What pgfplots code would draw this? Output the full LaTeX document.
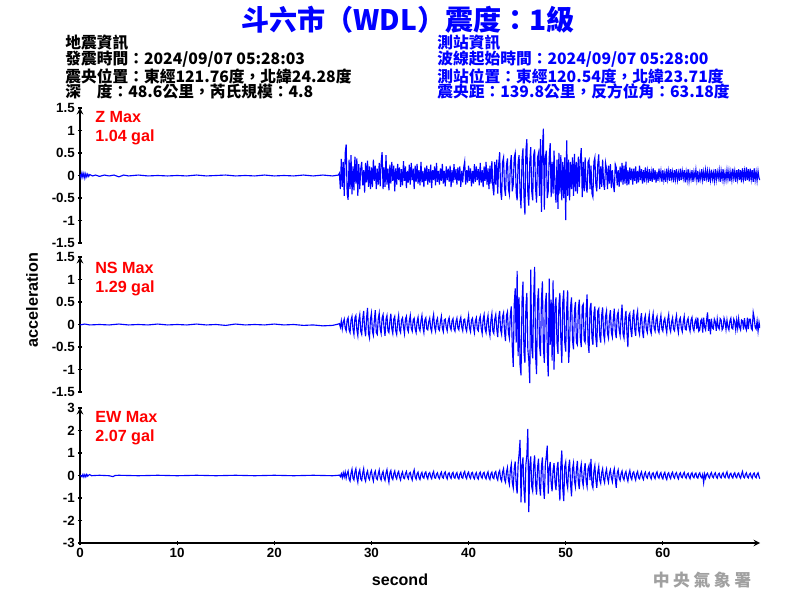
\documentclass[border=0pt]{standalone}
\usepackage{pgfplots}
\pgfplotsset{compat=1.18}
\usepackage{fontspec}
\setmainfont{Liberation Sans}
\newfontfamily\cjk{Noto Sans CJK TC}
\definecolor{wblue}{RGB}{0,0,255}
\definecolor{wred}{RGB}{255,0,0}
\definecolor{wgray}{RGB}{160,160,160}
\pgfplotsset{
  seis/.style={
    scale only axis, width=17cm, height=3.375cm,
    xmin=0, xmax=70,
    axis line style={line width=1pt,-,black},
    tick style={line width=0.9pt, black},
    major tick length=3pt,
    tick align=outside,
    ticklabel style={font=\fontsize{9.5}{10}\selectfont\bfseries, inner sep=2pt},
  },
  seistop/.style={seis, axis x line=none, axis y line=left,
    ymin=-1.5, ymax=1.5, ytick={-1.5,-1,-0.5,0,0.5,1,1.5},
    yticklabels={-1.5,-1,-0.5,0,0.5,1,1.5}},
}
\begin{document}
\begin{tikzpicture}
\useasboundingbox (0,0) rectangle (20cm,15cm);
% ---------- Z ----------
\begin{axis}[seistop, at={(2cm,8.925cm)}, anchor=south west]
\addplot[wblue, line width=0.8pt] coordinates {
(0,0.03)(0.1,-0.05)(0.2,0.06)(0.3,-0.04)(0.4,0.05)(0.5,-0.06)(0.6,0.04)(0.7,-0.03)(0.8,0.03)(0.9,-0.02)(1.0,0.02)(1.3,-0.01)(1.6,0.01)(2.0,-0.02)(2.5,0.01)(3.0,-0.01)(3.5,0.01)(4.0,-0.03)(4.5,0.01)(5.0,-0.01)(6,0.01)(7,-0.01)(8,0.0)(9,-0.01)(10,0.0)(11,-0.01)(12,0.01)(13,-0.01)(14,0)(15,0.01)(16,-0.01)(17,0)(18,-0.01)(19,0.01)(20,-0.01)(21,0)(22,-0.01)(23,0.01)(24,-0.01)(25,0.01)(26,-0.01)(26.6,0.01)(26.7,0.05)(26.8,-0.30)(26.9,0.37)
(27.0,-0.25)(27.1,0.30)(27.2,-0.45)(27.3,0.50)(27.4,0.69)(27.5,-0.40)(27.6,-0.54)(27.7,0.35)(27.8,-0.30)(27.9,0.45)
(28.0,-0.42)(28.1,0.20)(28.2,-0.33)(28.3,0.42)(28.4,-0.18)(28.5,0.38)(28.6,-0.45)(28.7,0.25)(28.8,-0.30)(28.9,0.15)
(29.0,0.30)(29.1,-0.22)(29.2,0.12)(29.3,-0.38)(29.4,0.28)(29.5,-0.15)(29.6,0.33)(29.7,-0.25)(29.8,0.20)(29.9,-0.30)
(30.0,0.18)(30.1,-0.26)(30.2,0.35)(30.3,-0.12)(30.4,0.22)(30.5,-0.30)(30.6,0.15)(30.7,-0.20)(30.8,0.28)(30.9,-0.24)
(31.0,0.30)(31.1,0.52)(31.2,-0.30)(31.3,0.18)(31.4,-0.25)(31.5,0.45)(31.6,-0.20)(31.7,0.15)(31.8,-0.33)(31.9,0.24)
(32.0,-0.18)(32.1,0.30)(32.2,-0.12)(32.3,0.22)(32.4,-0.35)(32.5,0.16)(32.6,-0.20)(32.7,0.26)(32.8,-0.10)(32.9,0.18)
(33.0,-0.25)(33.1,0.14)(33.2,-0.22)(33.3,0.32)(33.4,-0.12)(33.5,0.20)(33.6,-0.28)(33.7,0.10)(33.8,-0.16)(33.9,0.24)
(34.0,-0.20)(34.1,0.28)(34.2,-0.10)(34.3,0.15)(34.4,-0.30)(34.5,0.22)(34.6,-0.14)(34.7,0.26)(34.8,-0.18)(34.9,0.12)
(35.0,-0.22)(35.1,0.30)(35.2,-0.15)(35.3,0.10)(35.4,-0.26)(35.5,0.18)(35.6,-0.12)(35.7,0.22)(35.8,-0.20)(35.9,0.14)
(36.0,-0.16)(36.1,0.24)(36.2,-0.28)(36.3,0.12)(36.4,-0.10)(36.5,0.20)(36.6,-0.22)(36.7,0.28)(36.8,-0.14)(36.9,0.10)
(37.0,-0.20)(37.1,0.16)(37.2,-0.12)(37.3,0.26)(37.4,-0.18)(37.5,0.10)(37.6,-0.24)(37.7,0.20)(37.8,-0.10)(37.9,0.15)
(38.0,-0.14)(38.1,0.22)(38.2,-0.26)(38.3,0.12)(38.4,-0.16)(38.5,0.25)(38.6,-0.10)(38.7,0.14)(38.8,-0.20)(38.9,0.18)
(39.0,-0.12)(39.1,0.20)(39.2,-0.25)(39.3,0.10)(39.4,-0.15)(39.5,0.18)(39.6,0.31)(39.7,-0.20)(39.8,0.12)(39.9,-0.16)
(40.0,0.22)(40.1,-0.12)(40.2,0.16)(40.3,-0.24)(40.4,0.10)(40.5,-0.18)(40.6,0.25)(40.7,-0.14)(40.8,0.20)(40.9,-0.10)
(41.0,0.14)(41.1,-0.22)(41.2,0.28)(41.3,-0.16)(41.4,0.12)(41.5,-0.26)(41.6,0.20)(41.7,-0.12)(41.8,0.30)(41.9,-0.20)
(42.0,0.16)(42.1,-0.30)(42.2,0.22)(42.3,-0.18)(42.4,0.32)(42.5,-0.25)(42.6,-0.44)(42.7,0.30)(42.8,-0.20)(42.9,0.35)
(43.0,-0.40)(43.1,0.25)(43.2,0.52)(43.3,-0.35)(43.4,-0.54)(43.5,0.30)(43.6,0.40)(43.7,-0.28)(43.8,-0.45)(43.9,0.22)
(44.0,0.38)(44.1,-0.30)(44.2,-0.42)(44.3,0.25)(44.4,0.45)(44.5,-0.35)(44.6,-0.20)(44.7,0.40)(44.8,0.50)(44.9,-0.38)
(45.0,-0.55)(45.1,0.30)(45.2,0.45)(45.3,-0.40)(45.4,-0.73)(45.5,0.35)(45.6,0.60)(45.7,-0.45)(45.8,-0.87)(45.9,0.55)
(46.0,0.81)(46.1,-0.40)(46.2,-0.67)(46.3,0.30)(46.4,0.63)(46.5,-0.35)(46.6,-0.55)(46.7,0.45)(46.8,0.58)(46.9,-0.30)
(47.0,-0.60)(47.1,0.40)(47.2,0.50)(47.3,-0.45)(47.4,0.81)(47.5,-0.81)(47.6,0.60)(47.7,1.04)(47.8,-0.76)(47.9,0.40)
(48.0,0.55)(48.1,-0.50)(48.2,-0.35)(48.3,0.40)(48.4,0.72)(48.5,-0.48)(48.6,0.30)(48.7,-0.40)(48.8,0.55)(48.9,-0.30)
(49.0,-0.60)(49.1,0.35)(49.2,-0.74)(49.3,0.50)(49.4,-0.40)(49.5,0.45)(49.6,-0.55)(49.7,0.30)(49.8,-0.50)(49.9,0.40)
(50.0,-0.99)(50.1,0.78)(50.2,-0.45)(50.3,0.35)(50.4,-0.55)(50.5,0.30)(50.6,-0.30)(50.7,0.40)(50.8,-0.45)(50.9,0.48)
(51.0,-0.35)(51.1,0.30)(51.2,-0.40)(51.3,0.42)(51.4,-0.25)(51.5,0.35)(51.6,0.61)(51.7,-0.48)(51.8,0.30)(51.9,-0.35)
(52.0,0.40)(52.1,-0.25)(52.2,-0.38)(52.3,0.30)(52.4,0.35)(52.5,-0.30)(52.6,0.22)(52.7,-0.40)(52.8,-0.48)(52.9,0.30)
(53.0,0.40)(53.1,-0.20)(53.2,-0.35)(53.3,0.25)(53.4,0.47)(53.5,-0.30)(53.6,0.20)(53.7,-0.25)(53.8,0.35)(53.9,-0.18)
(54.0,-0.32)(54.1,0.28)(54.2,0.15)(54.3,-0.30)(54.4,0.22)(54.5,-0.18)(54.6,0.25)(54.7,-0.28)(54.8,0.12)(54.9,-0.20)
(55.0,-0.37)(55.1,0.25)(55.2,0.18)(55.3,-0.22)(55.4,0.12)(55.5,-0.25)(55.6,0.20)(55.7,-0.15)(55.8,0.28)(55.9,-0.20)
(56.0,0.22)(56.1,-0.18)(56.2,0.31)(56.3,-0.22)(56.4,0.12)(56.5,-0.20)(56.6,0.18)(56.7,-0.10)(56.8,0.15)(56.9,-0.20)
(57.0,0.15)(57.1,-0.12)(57.2,0.20)(57.3,-0.18)(57.4,0.10)(57.5,-0.15)(57.6,0.22)(57.7,-0.10)(57.8,0.14)(57.9,-0.18)
(58.0,0.12)(58.1,-0.15)(58.2,0.18)(58.3,-0.08)(58.4,0.10)(58.5,-0.16)(58.6,0.14)(58.7,-0.12)(58.8,0.08)(58.9,-0.14)
(59.0,0.16)(59.1,-0.10)(59.2,0.12)(59.3,-0.16)(59.4,0.08)(59.5,-0.12)(59.6,0.15)(59.7,-0.06)(59.8,0.10)(59.9,-0.14)
(60.0,0.12)(60.1,-0.10)(60.2,0.06)(60.3,-0.14)(60.4,0.15)(60.5,-0.08)(60.6,0.10)(60.7,-0.12)(60.8,0.14)(60.9,-0.06)
(61.0,0.08)(61.1,-0.15)(61.2,0.12)(61.3,-0.08)(61.4,0.14)(61.5,-0.10)(61.6,0.06)(61.7,-0.12)(61.8,0.15)(61.9,-0.10)
(62.0,0.10)(62.1,-0.06)(62.2,0.12)(62.3,-0.15)(62.4,0.08)(62.5,-0.10)(62.6,0.14)(62.7,-0.12)(62.8,0.06)(62.9,-0.08)
(63.0,0.12)(63.1,-0.14)(63.2,0.08)(63.3,-0.06)(63.4,0.13)(63.5,-0.10)(63.6,0.10)(63.7,-0.15)(63.8,0.06)(63.9,-0.08)
(64.0,0.14)(64.1,-0.10)(64.2,0.08)(64.3,-0.12)(64.4,0.12)(64.5,-0.06)(64.6,0.10)(64.7,-0.14)(64.8,0.08)(64.9,-0.10)
(65.0,0.13)(65.1,-0.08)(65.2,0.06)(65.3,-0.12)(65.4,0.14)(65.5,-0.10)(65.6,0.08)(65.7,-0.06)(65.8,0.12)(65.9,-0.14)
(66.0,0.10)(66.1,-0.08)(66.2,0.14)(66.3,-0.12)(66.4,0.06)(66.5,-0.10)(66.6,0.12)(66.7,-0.08)(66.8,0.10)(66.9,-0.13)
(67.0,0.08)(67.1,-0.10)(67.2,0.15)(67.3,-0.06)(67.4,0.10)(67.5,-0.14)(67.6,0.12)(67.7,-0.08)(67.8,0.14)(67.9,-0.10)
(68.0,0.12)(68.1,-0.15)(68.2,0.16)(68.3,-0.08)(68.4,0.10)(68.5,-0.12)(68.6,0.18)(68.7,-0.10)(68.8,0.14)(68.9,-0.13)
(69.0,0.15)(69.1,-0.08)(69.2,0.12)(69.3,-0.14)(69.4,0.16)(69.5,-0.10)(69.6,0.08)(69.7,-0.12)(69.8,0.10)(69.9,-0.06)(70.0,-0.10)
};
\end{axis}
% ---------- NS ----------
\begin{axis}[seistop, at={(2cm,5.2cm)}, anchor=south west]
\addplot[wblue, line width=0.8pt] coordinates {
(0,-0.01)(0.5,0.01)(1,-0.01)(2,0.0)(3,-0.01)(4,0.01)(5,-0.01)(6,0)(7,-0.01)(8,0.01)(9,-0.01)(10,0)(11,-0.01)(12,0.01)(13,-0.01)(14,0)(15,-0.02)(16,0.01)(17,-0.01)(18,0)(19,-0.01)(20,0.01)(21,-0.01)(22,0)(23,-0.02)(24,-0.01)(25,-0.03)(26,-0.02)(26.6,0.01)(26.7,0.02)(26.8,-0.06)(26.9,0.08)
(27.0,-0.10)(27.1,0.05)(27.2,0.12)(27.3,-0.08)(27.4,-0.14)(27.5,0.10)(27.6,0.15)(27.7,-0.12)(27.8,-0.18)(27.9,0.10)
(28.0,0.18)(28.1,-0.10)(28.2,-0.22)(28.3,0.15)(28.4,0.20)(28.5,-0.12)(28.6,-0.25)(28.7,0.10)(28.8,0.22)(28.9,-0.15)
(29.0,-0.22)(29.1,0.12)(29.2,0.30)(29.3,-0.10)(29.4,-0.26)(29.5,0.15)(29.6,0.37)(29.7,-0.20)(29.8,-0.30)(29.9,0.12)
(30.0,0.25)(30.1,-0.15)(30.2,-0.24)(30.3,0.10)(30.4,0.32)(30.5,-0.18)(30.6,-0.22)(30.7,0.12)(30.8,0.25)(30.9,-0.10)
(31.0,-0.20)(31.1,0.15)(31.2,0.22)(31.3,-0.08)(31.4,-0.25)(31.5,0.12)(31.6,0.20)(31.7,-0.14)(31.8,-0.18)(31.9,0.08)
(32.0,0.24)(32.1,-0.10)(32.2,-0.20)(32.3,0.12)(32.4,0.18)(32.5,-0.14)(32.6,-0.22)(32.7,0.06)(32.8,0.20)(32.9,-0.12)
(33.0,-0.18)(33.1,0.10)(33.2,0.15)(33.3,-0.06)(33.4,-0.20)(33.5,0.12)(33.6,0.18)(33.7,-0.10)(33.8,-0.16)(33.9,0.08)
(34.0,0.20)(34.1,-0.08)(34.2,-0.15)(34.3,0.10)(34.4,0.14)(34.5,-0.10)(34.6,-0.18)(34.7,0.06)(34.8,0.16)(34.9,-0.08)
(35.0,-0.14)(35.1,0.08)(35.2,0.20)(35.3,-0.06)(35.4,-0.18)(35.5,0.10)(35.6,0.15)(35.7,-0.10)(35.8,-0.12)(35.9,0.06)
(36.0,0.14)(36.1,-0.08)(36.2,-0.16)(36.3,0.10)(36.4,0.22)(36.5,-0.06)(36.6,-0.15)(36.7,0.08)(36.8,0.14)(36.9,-0.10)
(37.0,-0.13)(37.1,0.06)(37.2,0.18)(37.3,-0.08)(37.4,-0.16)(37.5,0.10)(37.6,0.12)(37.7,-0.06)(37.8,-0.14)(37.9,0.08)
(38.0,0.15)(38.1,-0.06)(38.2,-0.12)(38.3,0.08)(38.4,0.13)(38.5,-0.10)(38.6,-0.15)(38.7,0.06)(38.8,0.14)(38.9,-0.08)
(39.0,-0.12)(39.1,0.08)(39.2,0.16)(39.3,-0.06)(39.4,-0.14)(39.5,0.10)(39.6,0.12)(39.7,-0.08)(39.8,-0.15)(39.9,0.06)
(40.0,0.20)(40.1,-0.08)(40.2,-0.16)(40.3,0.10)(40.4,0.14)(40.5,-0.06)(40.6,-0.18)(40.7,0.08)(40.8,0.15)(40.9,-0.10)
(41.0,-0.14)(41.1,0.10)(41.2,0.18)(41.3,-0.08)(41.4,-0.20)(41.5,0.12)(41.6,0.22)(41.7,-0.10)(41.8,-0.18)(41.9,0.08)
(42.0,0.20)(42.1,-0.12)(42.2,-0.25)(42.3,0.10)(42.4,0.24)(42.5,-0.15)(42.6,-0.20)(42.7,0.12)(42.8,0.22)(42.9,-0.10)
(43.0,-0.28)(43.1,0.15)(43.2,0.30)(43.3,-0.12)(43.4,-0.22)(43.5,0.18)(43.6,0.26)(43.7,-0.15)(43.8,-0.37)(43.9,0.20)
(44.0,0.28)(44.1,-0.18)(44.2,-0.30)(44.3,0.22)(44.4,0.40)(44.5,-0.50)(44.6,-0.94)(44.7,0.45)(44.8,0.80)(44.9,-0.40)
(45.0,1.19)(45.1,-0.70)(45.2,0.60)(45.3,-0.90)(45.4,-1.13)(45.5,0.50)(45.6,0.95)(45.7,-0.60)(45.8,-0.85)(45.9,0.40)
(46.0,0.70)(46.1,-0.55)(46.2,-0.80)(46.3,-1.30)(46.4,1.22)(46.5,-0.50)(46.6,-0.75)(46.7,0.60)(46.8,1.28)(46.9,-0.70)
(47.0,-1.10)(47.1,0.50)(47.2,0.80)(47.3,-0.45)(47.4,-0.70)(47.5,0.55)(47.6,0.96)(47.7,-0.50)(47.8,-0.85)(47.9,0.45)
(48.0,0.70)(48.1,-0.60)(48.2,-1.15)(48.3,1.02)(48.4,-0.45)(48.5,0.55)(48.6,-0.80)(48.7,0.98)(48.8,-1.00)(48.9,0.40)
(49.0,0.60)(49.1,-0.40)(49.2,-0.65)(49.3,0.45)(49.4,0.70)(49.5,-0.35)(49.6,-0.85)(49.7,0.50)(49.8,0.76)(49.9,-0.40)
(50.0,-0.60)(50.1,0.35)(50.2,0.76)(50.3,-0.85)(50.4,-0.45)(50.5,0.40)(50.6,0.60)(50.7,-0.35)(50.8,-0.55)(50.9,0.30)
(51.0,0.50)(51.1,-0.40)(51.2,-0.45)(51.3,0.35)(51.4,0.55)(51.5,-0.30)(51.6,-0.50)(51.7,0.40)(51.8,0.45)(51.9,-0.35)
(52.0,-0.40)(52.1,0.30)(52.2,0.67)(52.3,-0.40)(52.4,-0.63)(52.5,0.35)(52.6,0.48)(52.7,-0.30)(52.8,-0.45)(52.9,0.25)
(53.0,0.40)(53.1,-0.30)(53.2,-0.50)(53.3,0.30)(53.4,0.35)(53.5,-0.25)(53.6,-0.40)(53.7,0.20)(53.8,0.38)(53.9,-0.22)
(54.0,-0.35)(54.1,0.18)(54.2,0.30)(54.3,-0.20)(54.4,-0.30)(54.5,0.15)(54.6,0.32)(54.7,-0.18)(54.8,-0.28)(54.9,0.12)
(55.0,0.35)(55.1,-0.15)(55.2,-0.30)(55.3,0.20)(55.4,0.28)(55.5,-0.12)(55.6,-0.25)(55.7,0.15)(55.8,0.44)(55.9,-0.20)
(56.0,-0.30)(56.1,0.12)(56.2,0.30)(56.3,-0.18)(56.4,-0.50)(56.5,0.20)(56.6,0.25)(56.7,-0.12)(56.8,-0.28)(56.9,0.15)
(57.0,0.33)(57.1,-0.10)(57.2,-0.25)(57.3,0.18)(57.4,0.30)(57.5,-0.12)(57.6,-0.22)(57.7,0.10)(57.8,0.25)(57.9,-0.15)
(58.0,-0.30)(58.1,0.12)(58.2,0.20)(58.3,-0.10)(58.4,-0.18)(58.5,0.08)(58.6,0.22)(58.7,-0.12)(58.8,-0.20)(58.9,0.10)
(59.0,0.24)(59.1,-0.08)(59.2,-0.15)(59.3,0.10)(59.4,0.18)(59.5,-0.12)(59.6,-0.18)(59.7,0.06)(59.8,0.20)(59.9,-0.10)
(60.0,-0.15)(60.1,0.08)(60.2,0.14)(60.3,-0.06)(60.4,-0.18)(60.5,0.10)(60.6,0.22)(60.7,-0.08)(60.8,-0.16)(60.9,0.06)
(61.0,0.15)(61.1,-0.10)(61.2,-0.14)(61.3,0.08)(61.4,0.20)(61.5,-0.06)(61.6,-0.18)(61.7,0.10)(61.8,0.15)(61.9,-0.08)
(62.0,-0.16)(62.1,0.06)(62.2,0.18)(62.3,-0.10)(62.4,-0.12)(62.5,0.08)(62.6,0.14)(62.7,-0.06)(62.8,-0.15)(62.9,0.10)
(63.0,0.16)(63.1,-0.08)(63.2,-0.14)(63.3,0.06)(63.4,0.12)(63.5,-0.10)(63.6,0.15)(63.7,-0.15)(63.8,-0.12)(63.9,0.08)
(64.0,0.12)(64.1,-0.18)(64.2,0.15)(64.3,-0.06)(64.4,-0.12)(64.5,0.10)(64.6,0.27)(64.7,-0.14)(64.8,0.12)(64.9,-0.22)
(65.0,0.13)(65.1,-0.08)(65.2,-0.10)(65.3,0.12)(65.4,0.06)(65.5,-0.14)(65.6,0.12)(65.7,-0.06)(65.8,-0.10)(65.9,0.13)
(66.0,0.10)(66.1,-0.12)(66.2,-0.08)(66.3,0.14)(66.4,0.06)(66.5,-0.11)(66.6,0.10)(66.7,-0.06)(66.8,-0.12)(66.9,0.08)
(67.0,0.14)(67.1,-0.08)(67.2,-0.10)(67.3,0.12)(67.4,0.06)(67.5,-0.12)(67.6,0.10)(67.7,-0.08)(67.8,0.13)(67.9,-0.06)
(68.0,-0.12)(68.1,0.10)(68.2,0.08)(68.3,-0.11)(68.4,0.14)(68.5,-0.06)(68.6,-0.12)(68.7,0.15)(68.8,-0.10)(68.9,0.12)
(69.0,0.12)(69.1,-0.08)(69.2,-0.12)(69.3,0.27)(69.4,0.15)(69.5,-0.06)(69.6,-0.10)(69.7,0.08)(69.8,-0.15)(69.9,0.05)(70.0,-0.08)
};
\end{axis}
% ---------- EW ----------
\begin{axis}[seis, axis lines=left, at={(2cm,1.425cm)}, anchor=south west,
  ymin=-3, ymax=3, ytick={-3,-2,-1,0,1,2,3}, yticklabels={-3,-2,-1,0,1,2,3},
  xtick={0,10,20,30,40,50,60}, xticklabels={0,10,20,30,40,50,60}]
\addplot[wblue, line width=0.8pt] coordinates {
(0,0.02)(0.2,-0.06)(0.3,0.05)(0.4,-0.07)(0.5,0.04)(0.6,-0.06)(0.7,0.05)(0.8,-0.03)(0.9,0.02)(1.0,0.04)(1.2,-0.01)(1.5,0.0)(2,0.01)(2.5,0)(3.0,-0.01)(3.4,-0.05)(3.6,0.0)(4,0.01)(5,0)(6,-0.01)(7,0)(8,0.01)(9,0)(10,-0.01)(11,0)(12,0.01)(13,0)(14,-0.01)(15,0)(16,0.01)(17,0)(18,-0.01)(19,0)(20,0.01)(21,0)(22,-0.01)(23,0)(24,0.01)(25,0)(26,-0.01)(26.6,0.01)(26.7,0.02)(26.8,-0.05)(26.9,0.08)
(27.0,-0.10)(27.1,0.12)(27.2,-0.06)(27.3,0.15)(27.4,-0.12)(27.5,0.08)(27.6,0.20)(27.7,-0.15)(27.8,-0.25)(27.9,0.10)
(28.0,0.28)(28.1,-0.12)(28.2,-0.20)(28.3,0.15)(28.4,0.30)(28.5,-0.10)(28.6,-0.30)(28.7,0.12)(28.8,0.25)(28.9,-0.15)
(29.0,-0.22)(29.1,0.10)(29.2,0.30)(29.3,-0.12)(29.4,-0.25)(29.5,0.08)(29.6,0.20)(29.7,-0.10)(29.8,-0.18)(29.9,0.12)
(30.0,0.22)(30.1,-0.08)(30.2,-0.25)(30.3,0.10)(30.4,0.20)(30.5,-0.12)(30.6,-0.18)(30.7,0.06)(30.8,0.24)(30.9,-0.10)
(31.0,-0.20)(31.1,0.08)(31.2,0.18)(31.3,-0.12)(31.4,-0.22)(31.5,0.10)(31.6,0.26)(31.7,-0.08)(31.8,-0.30)(31.9,0.12)
(32.0,0.22)(32.1,-0.10)(32.2,-0.18)(32.3,0.08)(32.4,0.20)(32.5,-0.06)(32.6,-0.15)(32.7,0.10)(32.8,0.18)(32.9,-0.08)
(33.0,-0.20)(33.1,0.06)(33.2,0.16)(33.3,-0.10)(33.4,-0.14)(33.5,0.08)(33.6,0.18)(33.7,-0.06)(33.8,-0.15)(33.9,0.10)
(34.0,0.14)(34.1,-0.08)(34.2,-0.20)(34.3,0.10)(34.4,0.25)(34.5,-0.06)(34.6,-0.16)(34.7,0.08)(34.8,0.15)(34.9,-0.10)
(35.0,-0.18)(35.1,0.06)(35.2,0.14)(35.3,-0.08)(35.4,-0.12)(35.5,0.10)(35.6,0.16)(35.7,-0.06)(35.8,-0.15)(35.9,0.08)
(36.0,0.13)(36.1,-0.06)(36.2,-0.14)(36.3,0.08)(36.4,0.18)(36.5,-0.10)(36.6,-0.12)(36.7,0.06)(36.8,0.12)(36.9,-0.08)
(37.0,-0.14)(37.1,0.06)(37.2,0.15)(37.3,-0.08)(37.4,-0.12)(37.5,0.10)(37.6,0.16)(37.7,-0.06)(37.8,-0.15)(37.9,0.08)
(38.0,0.12)(38.1,-0.06)(38.2,-0.13)(38.3,0.08)(38.4,0.14)(38.5,-0.08)(38.6,-0.12)(38.7,0.06)(38.8,0.13)(38.9,-0.10)
(39.0,-0.15)(39.1,0.06)(39.2,0.14)(39.3,-0.08)(39.4,-0.12)(39.5,0.10)(39.6,0.18)(39.7,-0.06)(39.8,-0.14)(39.9,0.08)
(40.0,0.15)(40.1,-0.06)(40.2,-0.13)(40.3,0.10)(40.4,0.14)(40.5,-0.08)(40.6,-0.15)(40.7,0.06)(40.8,0.13)(40.9,-0.10)
(41.0,-0.16)(41.1,0.08)(41.2,0.15)(41.3,-0.06)(41.4,-0.12)(41.5,0.10)(41.6,0.14)(41.7,-0.08)(41.8,-0.15)(41.9,0.06)
(42.0,0.16)(42.1,-0.10)(42.2,-0.18)(42.3,0.08)(42.4,0.15)(42.5,-0.10)(42.6,-0.14)(42.7,0.12)(42.8,0.18)(42.9,-0.10)
(43.0,-0.20)(43.1,0.12)(43.2,0.22)(43.3,-0.15)(43.4,-0.25)(43.5,0.15)(43.6,0.30)(43.7,-0.18)(43.8,-0.30)(43.9,0.15)
(44.0,0.35)(44.1,-0.20)(44.2,-0.40)(44.3,0.25)(44.4,0.50)(44.5,-0.30)(44.6,-0.55)(44.7,0.30)(44.8,0.62)(44.9,-0.40)
(45.0,-0.80)(45.1,0.50)(45.2,0.95)(45.3,1.58)(45.4,-1.19)(45.5,0.45)(45.6,0.80)(45.7,-0.60)(45.8,-1.23)(45.9,0.50)
(46.0,0.90)(46.1,2.07)(46.2,-1.63)(46.3,0.40)(46.4,0.85)(46.5,-0.50)(46.6,-0.70)(46.7,0.45)(46.8,0.89)(46.9,-0.40)
(47.0,-0.85)(47.1,0.35)(47.2,0.75)(47.3,-0.45)(47.4,-0.89)(47.5,0.40)(47.6,0.80)(47.7,-0.50)(47.8,-1.04)(47.9,0.45)
(48.0,0.85)(48.1,1.33)(48.2,-0.80)(48.3,0.30)(48.4,0.60)(48.5,-0.35)(48.6,-0.70)(48.7,0.25)(48.8,0.55)(48.9,-0.30)
(49.0,-0.65)(49.1,0.30)(49.2,0.60)(49.3,-0.40)(49.4,-1.11)(49.5,0.50)(49.6,1.11)(49.7,-0.60)(49.8,-1.14)(49.9,0.40)
(50.0,0.60)(50.1,-0.30)(50.2,-0.55)(50.3,0.35)(50.4,0.70)(50.5,-0.40)(50.6,-0.93)(50.7,0.30)(50.8,0.55)(50.9,-0.25)
(51.0,-0.50)(51.1,0.25)(51.2,0.65)(51.3,-0.30)(51.4,-0.60)(51.5,0.25)(51.6,0.50)(51.7,-0.20)(51.8,-0.45)(51.9,0.20)
(52.0,0.55)(52.1,-0.25)(52.2,-0.50)(52.3,0.30)(52.4,0.45)(52.5,-0.20)(52.6,0.74)(52.7,-0.40)(52.8,-0.55)(52.9,0.20)
(53.0,0.44)(53.1,-0.20)(53.2,-0.55)(53.3,0.15)(53.4,0.40)(53.5,-0.20)(53.6,-0.35)(53.7,0.12)(53.8,0.30)(53.9,-0.15)
(54.0,-0.32)(54.1,0.10)(54.2,0.28)(54.3,-0.12)(54.4,-0.30)(54.5,0.10)(54.6,0.25)(54.7,-0.10)(54.8,-0.28)(54.9,0.12)
(55.0,0.30)(55.1,-0.15)(55.2,-0.55)(55.3,0.10)(55.4,0.25)(55.5,-0.12)(55.6,-0.22)(55.7,0.08)(55.8,0.20)(55.9,-0.10)
(56.0,-0.20)(56.1,0.08)(56.2,0.18)(56.3,-0.10)(56.4,-0.25)(56.5,0.06)(56.6,0.22)(56.7,-0.08)(56.8,-0.18)(56.9,0.10)
(57.0,0.16)(57.1,-0.06)(57.2,-0.20)(57.3,0.08)(57.4,0.18)(57.5,-0.10)(57.6,-0.15)(57.7,0.06)(57.8,0.16)(57.9,-0.08)
(58.0,-0.18)(58.1,0.06)(58.2,0.15)(58.3,-0.06)(58.4,-0.12)(58.5,0.08)(58.6,0.14)(58.7,-0.06)(58.8,-0.15)(58.9,0.08)
(59.0,0.12)(59.1,-0.06)(59.2,-0.14)(59.3,0.08)(59.4,0.16)(59.5,-0.06)(59.6,-0.12)(59.7,0.06)(59.8,0.13)(59.9,-0.08)
(60.0,-0.15)(60.1,0.06)(60.2,0.14)(60.3,-0.08)(60.4,-0.18)(60.5,0.06)(60.6,0.12)(60.7,-0.06)(60.8,-0.14)(60.9,0.08)
(61.0,0.15)(61.1,-0.06)(61.2,-0.12)(61.3,0.08)(61.4,0.13)(61.5,-0.06)(61.6,-0.15)(61.7,0.06)(61.8,0.12)(61.9,-0.06)
(62.0,-0.10)(62.1,0.06)(62.2,0.14)(62.3,-0.06)(62.4,-0.12)(62.5,0.05)(62.6,0.10)(62.7,-0.06)(62.8,-0.14)(62.9,0.06)
(63.0,0.12)(63.1,-0.05)(63.2,-0.10)(63.3,0.06)(63.4,0.11)(63.5,-0.08)(63.6,-0.12)(63.7,0.06)(63.8,0.12)(63.9,-0.05)
(64.0,-0.10)(64.1,0.05)(64.2,-0.32)(64.3,0.06)(64.4,-0.12)(64.5,0.05)(64.6,0.10)(64.7,-0.05)(64.8,-0.11)(64.9,0.06)
(65.0,0.13)(65.1,-0.05)(65.2,-0.10)(65.3,0.06)(65.4,0.12)(65.5,-0.06)(65.6,-0.12)(65.7,0.05)(65.8,0.10)(65.9,-0.06)
(66.0,-0.11)(66.1,0.05)(66.2,0.12)(66.3,-0.05)(66.4,-0.10)(66.5,0.06)(66.6,0.16)(66.7,-0.06)(66.8,-0.12)(66.9,0.05)
(67.0,0.10)(67.1,-0.05)(67.2,-0.11)(67.3,0.06)(67.4,0.12)(67.5,-0.05)(67.6,-0.10)(67.7,0.06)(67.8,0.11)(67.9,-0.05)
(68.0,-0.12)(68.1,0.06)(68.2,0.18)(68.3,-0.06)(68.4,-0.10)(68.5,0.05)(68.6,0.12)(68.7,-0.06)(68.8,-0.11)(68.9,0.05)
(69.0,0.10)(69.1,-0.05)(69.2,-0.12)(69.3,0.06)(69.4,0.11)(69.5,-0.05)(69.6,-0.10)(69.7,0.06)(69.8,0.12)(69.9,-0.05)(70.0,-0.15)
};
\end{axis}
% ---------- texts ----------
\node[wblue, font=\cjk\bfseries\fontsize{20}{23}\selectfont] at (10.2cm,14.5cm) {斗六市（WDL）震度：1級};
\begin{scope}[every node/.style={anchor=west, inner sep=0pt, font=\cjk\bfseries\fontsize{11.2}{13}\selectfont}]
\node at (1.625cm,13.925cm) {地震資訊};
\node at (1.625cm,13.525cm) {發震時間：2024/09/07 05:28:03};
\node at (1.625cm,13.1cm) {震央位置：東經121.76度，北緯24.28度};
\node at (1.625cm,12.725cm) {深　度：48.6公里，芮氏規模：4.8};
\node[wblue] at (10.925cm,13.925cm) {測站資訊};
\node[wblue] at (10.925cm,13.525cm) {波線起始時間：2024/09/07 05:28:00};
\node[wblue] at (10.925cm,13.1cm) {測站位置：東經120.54度，北緯23.71度};
\node[wblue] at (10.925cm,12.725cm) {震央距：139.8公里，反方位角：63.18度};
\end{scope}
\begin{scope}[every node/.style={anchor=west, inner sep=0pt, wred, font=\bfseries\fontsize{11.5}{13}\selectfont}]
\node at (2.375cm,12.075cm) {Z Max};
\node at (2.375cm,11.575cm) {1.04 gal};
\node at (2.375cm,8.3cm) {NS Max};
\node at (2.375cm,7.8cm) {1.29 gal};
\node at (2.375cm,4.575cm) {EW Max};
\node at (2.375cm,4.075cm) {2.07 gal};
\end{scope}
\node[rotate=90, font=\bfseries\fontsize{11.5}{13}\selectfont] at (0.8cm,7.5cm) {acceleration};
\node[font=\bfseries\fontsize{11.4}{13}\selectfont] at (10cm,0.5cm) {second};
\node[wgray, font=\cjk\bfseries\fontsize{12}{14}\selectfont] at (17.55cm,0.5cm) {中\hspace{2.5pt}央\hspace{2.5pt}氣\hspace{2.5pt}象\hspace{2.5pt}署};
\end{tikzpicture}
\end{document}
